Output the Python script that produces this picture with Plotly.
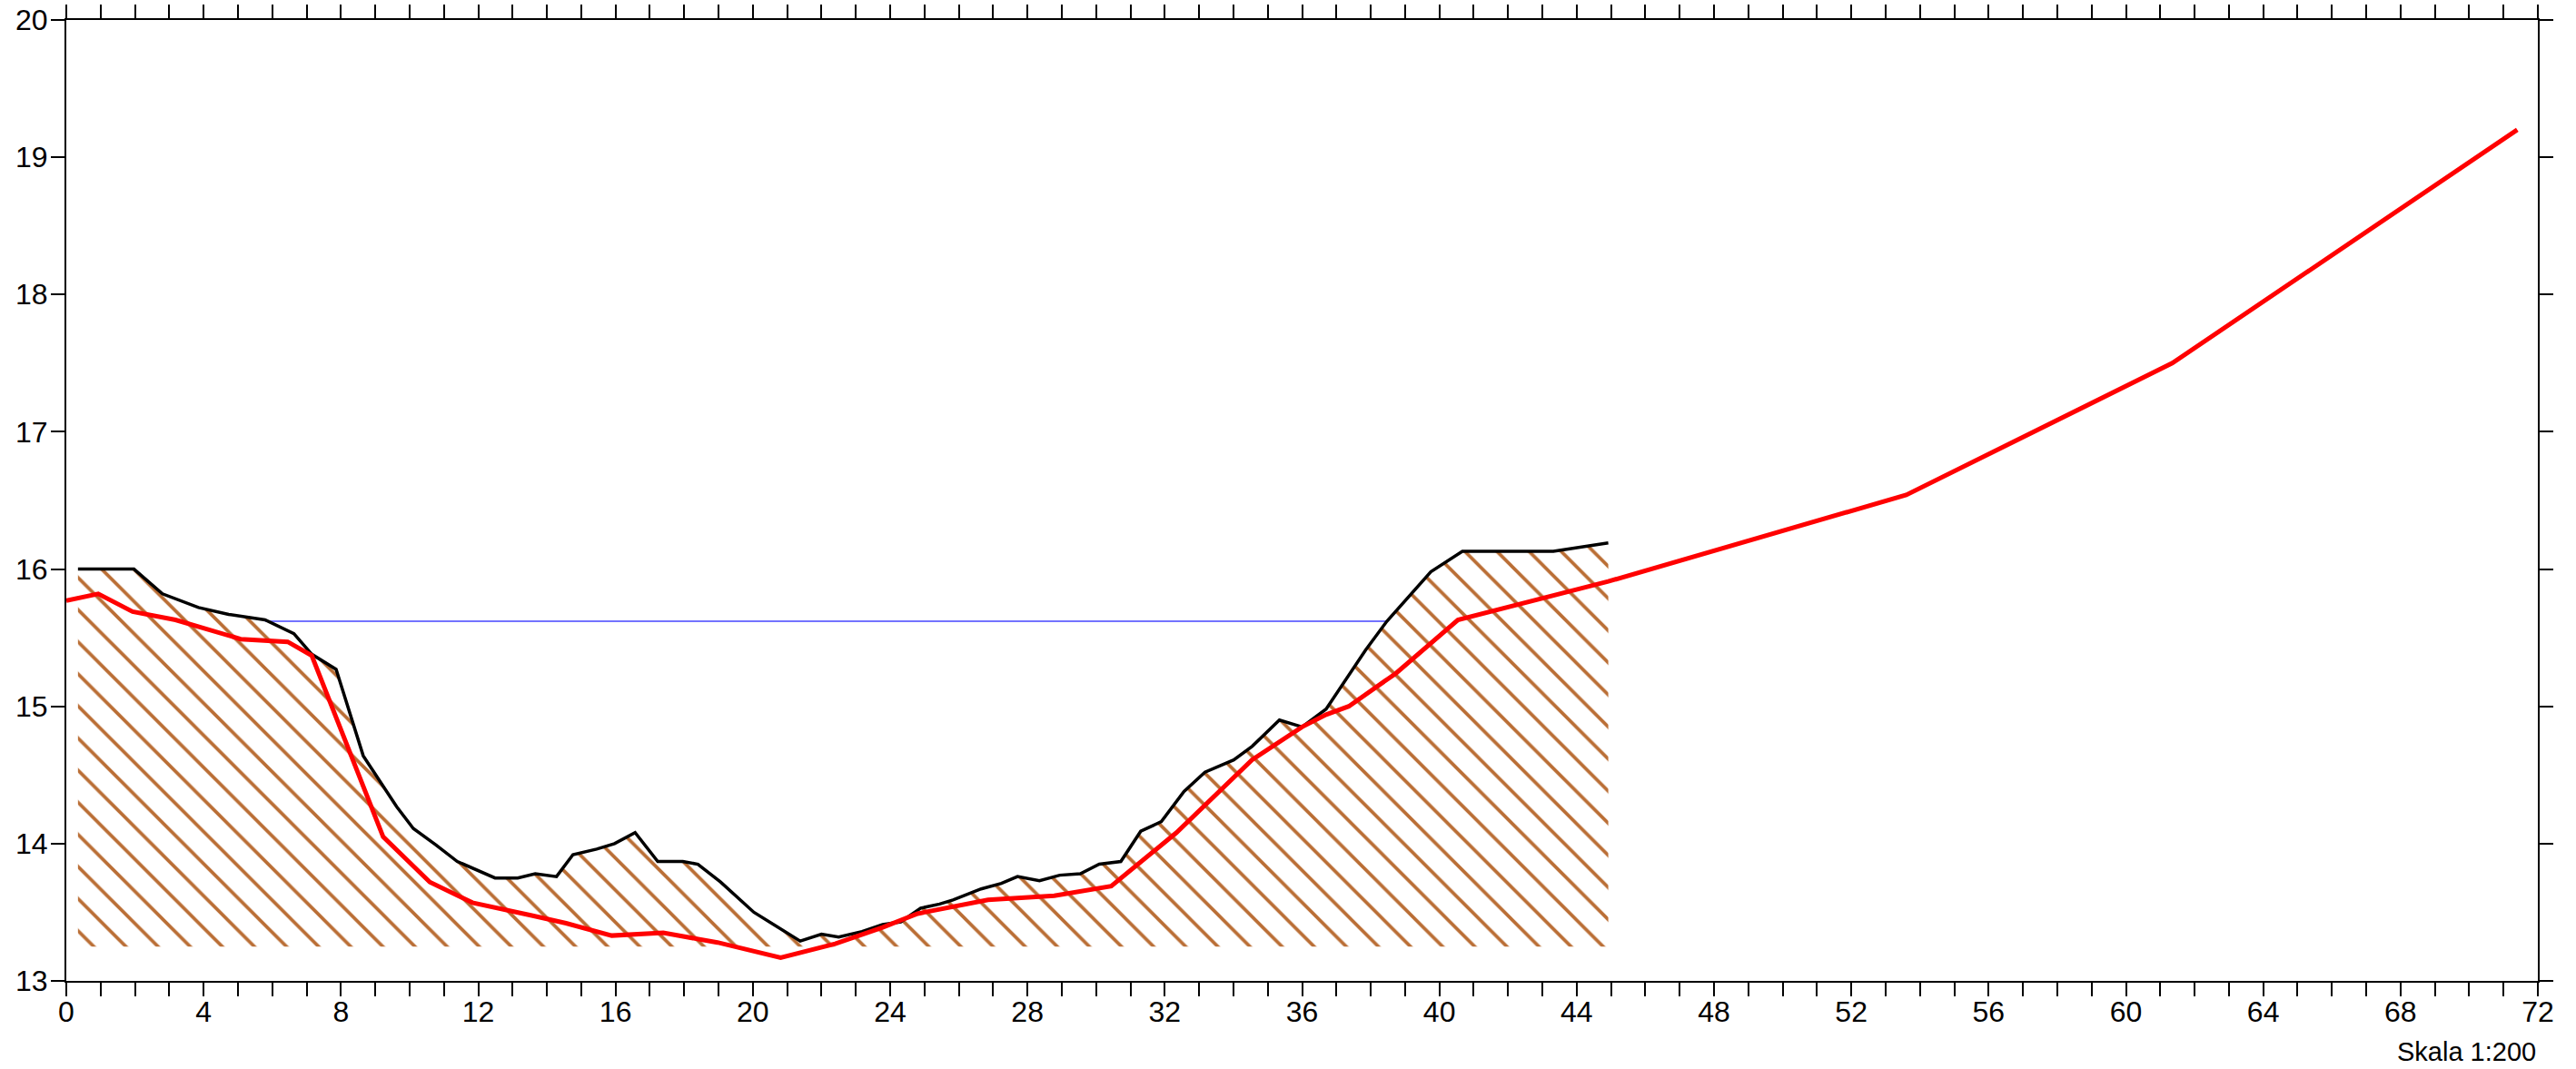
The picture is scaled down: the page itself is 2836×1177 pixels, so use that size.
import plotly.graph_objects as go

# Terrain profile (black line, hatched below)
terrain_x = [0.34, 1.97, 2.80, 3.85, 4.73, 5.79, 6.63, 7.15, 7.86, 8.65, 9.62, 10.11, 10.77, 11.39,
             12.49, 13.15, 13.66, 14.28, 14.76, 15.45, 15.97, 16.57, 17.23, 17.96, 18.40, 19.06,
             20.03, 21.38, 22.00, 22.50, 23.18, 23.78, 24.31, 24.89, 25.44, 25.83, 26.65, 27.24,
             27.71, 28.35, 28.94, 29.54, 30.09, 30.72, 31.30, 31.90, 32.56, 33.17, 34.01, 34.55,
             35.34, 36.00, 36.70, 37.23, 37.85, 38.47, 39.17, 39.75, 40.67, 43.32, 44.92]
terrain_y = [16.00, 16.00, 15.82, 15.72, 15.67, 15.63, 15.53, 15.38, 15.27, 14.64, 14.27, 14.11, 13.99, 13.87,
             13.75, 13.75, 13.78, 13.76, 13.92, 13.96, 14.00, 14.08, 13.87, 13.87, 13.85, 13.72,
             13.50, 13.29, 13.34, 13.32, 13.36, 13.41, 13.43, 13.53, 13.56, 13.59, 13.67, 13.71,
             13.76, 13.73, 13.77, 13.78, 13.85, 13.87, 14.09, 14.16, 14.38, 14.52, 14.61, 14.71,
             14.90, 14.85, 14.98, 15.18, 15.41, 15.62, 15.82, 15.98, 16.13, 16.13, 16.19]
hatch_base = 13.25

# Red design line
design_x = [0.00, 0.93, 1.93, 3.18, 5.08, 6.45, 7.15, 9.23, 10.59, 11.83, 13.50, 14.56, 15.89, 17.39,
            18.97, 20.81, 22.40, 23.78, 24.80, 26.85, 28.78, 30.44, 32.34, 34.54, 36.00, 36.70,
            37.36, 38.73, 40.54, 44.92, 53.60, 61.35, 71.40]
design_y = [15.77, 15.82, 15.69, 15.63, 15.49, 15.47, 15.37, 14.05, 13.72, 13.57, 13.48, 13.42, 13.33, 13.35,
            13.28, 13.17, 13.27, 13.39, 13.49, 13.59, 13.62, 13.69, 14.08, 14.61, 14.85, 14.94,
            15.00, 15.24, 15.63, 15.91, 16.54, 17.50, 19.20]

# Water level (blue)
water_x = [5.79, 38.47]
water_y = [15.62, 15.62]

x_ticks = list(range(0, 73, 4))
y_ticks = list(range(13, 21))

fig = go.Figure()

# Hatched soil polygon
poly_x = terrain_x + [terrain_x[-1], terrain_x[0]]
poly_y = terrain_y + [hatch_base, hatch_base]
fig.add_trace(go.Scatter(
    x=poly_x, y=poly_y, mode="lines", fill="toself",
    line=dict(width=0, color="rgba(0,0,0,0)"),
    fillcolor="rgba(255,255,255,0)",
    fillpattern=dict(shape="\\", fgcolor="#BA6E35", fgopacity=1,
                     bgcolor="rgba(255,255,255,0)", fillmode="replace",
                     size=25, solidity=0.15),
    hoverinfo="skip", showlegend=False))

fig.add_trace(go.Scatter(x=water_x, y=water_y, mode="lines",
                         line=dict(color="#4444FF", width=1.5), showlegend=False))
fig.add_trace(go.Scatter(x=terrain_x, y=terrain_y, mode="lines",
                         line=dict(color="black", width=3.5), showlegend=False))
fig.add_trace(go.Scatter(x=design_x, y=design_y, mode="lines",
                         line=dict(color="#FF0000", width=5), showlegend=False))

font_family = "Liberation Sans, Arial, sans-serif"
fs = 32
fig.update_layout(
    width=2836, height=1177,
    margin=dict(l=73, r=42, t=22, b=97, autoexpand=False),
    paper_bgcolor="white", plot_bgcolor="white",
    font=dict(family=font_family, size=fs, color="black"),
    xaxis=dict(range=[0, 72], tickvals=x_ticks, ticktext=[str(v) for v in x_ticks],
               ticks="outside", ticklen=15, tickwidth=2, tickcolor="black",
               minor=dict(dtick=1, tick0=0, ticks="outside", ticklen=15, tickwidth=2, tickcolor="black"),
               showline=True, linewidth=2, linecolor="black", mirror="ticks",
               showgrid=False, zeroline=False, tickfont=dict(size=fs), automargin=False,
               ticklabelstandoff=-10, ticklabeloverflow="allow"),
    yaxis=dict(range=[13, 20], tickvals=y_ticks, ticktext=[str(v) for v in y_ticks],
               ticks="outside", ticklen=15, tickwidth=2, tickcolor="black",
               showline=True, linewidth=2, linecolor="black", mirror="ticks",
               showgrid=False, zeroline=False, tickfont=dict(size=fs), automargin=False,
               ticklabelstandoff=-3, ticklabeloverflow="allow"),
    annotations=[dict(text="Skala 1:200", xref="paper", yref="paper", x=1.0, y=-0.074,
                      xanchor="right", yanchor="middle", showarrow=False,
                      font=dict(size=29, family=font_family))],
)

fig.write_html("out.html", config={"displayModeBar": False},
               post_script="document.body.style.margin='0px';document.body.style.padding='0px';")
